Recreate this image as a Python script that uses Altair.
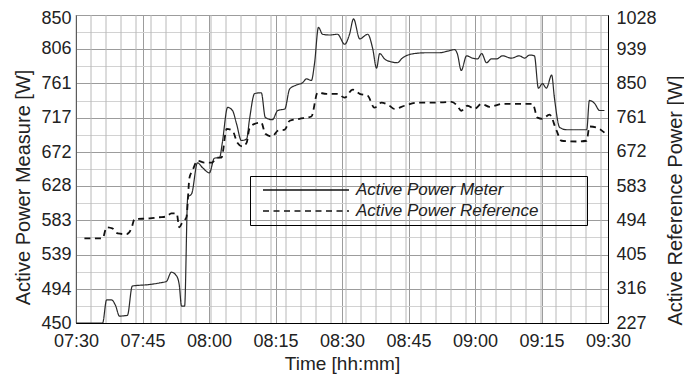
import json
import altair as alt
import pandas as pd

# ---- data (time = minutes after 07:30) ----
series_names = ["Active Power Meter", "Active Power Reference"]

meter_t = [0.0, 6.0, 6.9, 8.0, 8.9, 9.8, 11.6, 12.7, 16.6, 18.8,
           20.4, 21.5, 22.7, 23.3, 23.8, 24.5, 25.2, 26.1, 27.4, 28.5,
           30.1, 31.2, 32.4, 33.0, 34.2, 35.3, 36.2, 37.3, 38.5, 39.1,
           40.3, 41.8, 42.7, 44.3, 45.5, 47.1, 48.2, 49.7, 51.1, 52.0,
           53.1, 53.8, 54.7, 55.6, 57.2, 59.0, 60.6, 61.7, 62.6, 64.0,
           65.8, 66.9, 67.8, 68.5, 69.6, 71.2, 72.5, 73.6, 76.4, 79.3,
           82.0, 83.8, 85.4, 86.0, 86.9, 88.1, 89.4, 90.6, 91.5, 92.6,
           93.7, 94.9, 96.2, 98.2, 100.0, 101.2, 102.3, 103.4, 104.3, 105.2,
           106.1, 107.3, 107.9, 109.1, 110.7, 112.9, 115.2, 115.8, 117.0, 118.1,
           119.2]
meter_w = [450, 450, 480, 480, 473, 459, 460, 498, 500, 502,
           504, 516, 511, 499, 472, 472, 613, 618, 658, 652,
           645, 664, 665, 684, 730, 726, 709, 687, 689, 713,
           748, 749, 717, 714, 726, 728, 754, 759, 762, 767,
           765, 787, 834, 825, 824, 825, 812, 825, 845, 819,
           825, 807, 781, 800, 793, 789, 788, 794, 800, 801,
           801, 803, 805, 800, 778, 797, 794, 793, 800, 788,
           793, 793, 797, 794, 797, 794, 798, 797, 755, 761,
           755, 772, 743, 704, 701, 701, 701, 739, 735, 726,
           726]

ref_t = [1.9, 6.0, 6.9, 8.2, 9.4, 11.4, 12.5, 13.2, 16.6, 18.8,
         20.4, 21.5, 22.7, 23.3, 24.0, 24.9, 25.6, 26.3, 27.4, 29.0,
         30.6, 31.9, 32.8, 34.0, 35.3, 36.4, 37.6, 38.5, 39.1, 40.3,
         41.8, 42.7, 44.3, 45.5, 47.1, 48.2, 50.4, 53.1, 54.5, 56.5,
         59.0, 60.6, 62.4, 64.0, 65.8, 67.3, 68.9, 70.7, 71.8, 74.1,
         77.0, 80.9, 84.7, 86.0, 86.9, 88.3, 89.9, 91.5, 93.3, 96.2,
         99.4, 103.0, 104.1, 105.2, 106.8, 108.4, 109.5, 112.9, 115.2, 115.8,
         117.5, 119.2]
ref_w = [447, 447, 476, 473, 460, 458, 473, 497, 499, 502,
         504, 512, 512, 476, 489, 502, 605, 624, 649, 644,
         644, 657, 657, 732, 727, 696, 686, 696, 732, 745,
         748, 719, 712, 727, 730, 753, 758, 764, 826, 823,
         823, 813, 834, 823, 818, 787, 800, 792, 784, 792,
         800, 800, 802, 792, 779, 792, 784, 797, 789, 797,
         797, 797, 761, 758, 769, 727, 701, 699, 701, 738,
         735, 722]

x_tick_values = [0, 15, 30, 45, 60, 75, 90, 105, 120]
x_tick_labels = ["07:30", "07:45", "08:00", "08:15", "08:30",
                 "08:45", "09:00", "09:15", "09:30"]
left_ticks = [450, 494, 539, 583, 628, 672, 717, 761, 806, 850]
right_ticks = [227, 316, 405, 494, 583, 672, 761, 850, 939, 1028]

# ---- styling ----
FONT = "Liberation Sans"
W, H = 532, 308
minor_step = 3.3835  # minutes between minor vertical grid lines (~15 px)

df_m = pd.DataFrame({"t": meter_t, "v": meter_w, "series": series_names[0]})
df_r = pd.DataFrame({"t": ref_t, "v": ref_w, "series": series_names[1]})
grid_x = [k * minor_step for k in range(int(120 / minor_step) + 1)]
df_g = pd.DataFrame({"t": grid_x})

right_minor = [(a + b) / 2 for a, b in zip(right_ticks[:-1], right_ticks[1:])]
right_all = sorted(right_ticks + right_minor)
major_test = f"indexof({json.dumps(right_ticks)}, datum.value) >= 0"

x_enc = alt.X(
    "t:Q",
    scale=alt.Scale(domain=[0, 120], nice=False, zero=False),
    axis=alt.Axis(
        values=x_tick_values,
        labelExpr=f"{json.dumps(x_tick_labels)}[round(datum.value / 15)]",
        title="Time [hh:mm]",
        grid=True, gridColor="#9c9c9c", gridWidth=1,
        ticks=False, labelFlush=False, labelOverlap=False,
        labelPadding=9, titleFontSize=19,
        titleBaseline="alphabetic", titleY=46,
    ),
)

dash_scale = alt.Scale(domain=series_names, range=[[1, 0], [6, 4.5]])

minor_v = alt.Chart(df_g).mark_rule(color="#b8b8b8", strokeWidth=1).encode(
    x=x_enc, y=alt.value(0), y2=alt.value(H)
)

meter = alt.Chart(df_m).mark_line(
    color="#2a2a2a", strokeWidth=1.2, interpolate="monotone", clip=True
).encode(
    x=x_enc,
    y=alt.Y(
        "v:Q",
        scale=alt.Scale(domain=[450, 850], nice=False, zero=False),
        axis=alt.Axis(
            orient="left", values=left_ticks, format="d", grid=False,
            ticks=False, labelPadding=5,
            labelOffset={"condition": {"test": "datum.value == 850", "value": 3},
                         "value": 0},
            title="Active Power Measure [W]",
            titleAngle=270, titleBaseline="alphabetic", titleAlign="center",
            titleX=-47, titleY=172,
        ),
    ),
    strokeDash=alt.StrokeDash(
        "series:N", scale=dash_scale,
        legend=alt.Legend(
            title=" ", titleOrient="right", titlePadding=45, titleFontSize=4,
            orient="none", legendX=174, legendY=161,
            direction="vertical", strokeColor="#000", padding=4,
            symbolType="stroke", symbolSize=7396, symbolStrokeWidth=1.5,
            symbolStrokeColor="#222", symbolOffset=8, labelOffset=6,
            clipHeight=20, rowPadding=1,
            labelFont=FONT, labelFontSize=17, labelFontStyle="italic",
            labelColor="#222", labelLimit=500,
        ),
    ),
)

ref = alt.Chart(df_r).mark_line(
    color="#111111", strokeWidth=1.8, interpolate="monotone", clip=True
).encode(
    x=x_enc,
    y=alt.Y(
        "v:Q",
        scale=alt.Scale(domain=[227, 1028], nice=False, zero=False),
        axis=alt.Axis(
            orient="right", values=right_all, grid=True,
            gridColor={"condition": {"test": major_test, "value": "#9c9c9c"},
                       "value": "#d2d2d2"},
            ticks=False, labelPadding=8,
            labelOffset={"condition": {"test": "datum.value == 1028", "value": 3},
                         "value": 0},
            labelExpr=f"{major_test} ? format(datum.value, 'd') : ''",
            title="Active Reference Power [W]",
            titleAngle=270, titleBaseline="alphabetic", titleAlign="center",
            titleX=73, titleY=185,
        ),
    ),
    strokeDash=alt.StrokeDash("series:N", scale=dash_scale),
)

chart = (
    alt.layer(minor_v, meter, ref)
    .resolve_scale(y="independent")
    .properties(
        width=W, height=H,
        autosize=alt.AutoSizeParams(type="none"),
        padding={"left": 68, "top": 7, "right": 76, "bottom": 51},
    )
    .configure_view(stroke="#000000", strokeWidth=1)
    .configure_axis(
        labelFont=FONT, titleFont=FONT, labelFontSize=18, titleFontSize=20,
        labelColor="#222222", titleColor="#222222", titleFontWeight="normal",
        domainColor="#000000", domainWidth=1,
    )
)

chart.save("out.html", embed_options={"renderer": "svg", "actions": False})
